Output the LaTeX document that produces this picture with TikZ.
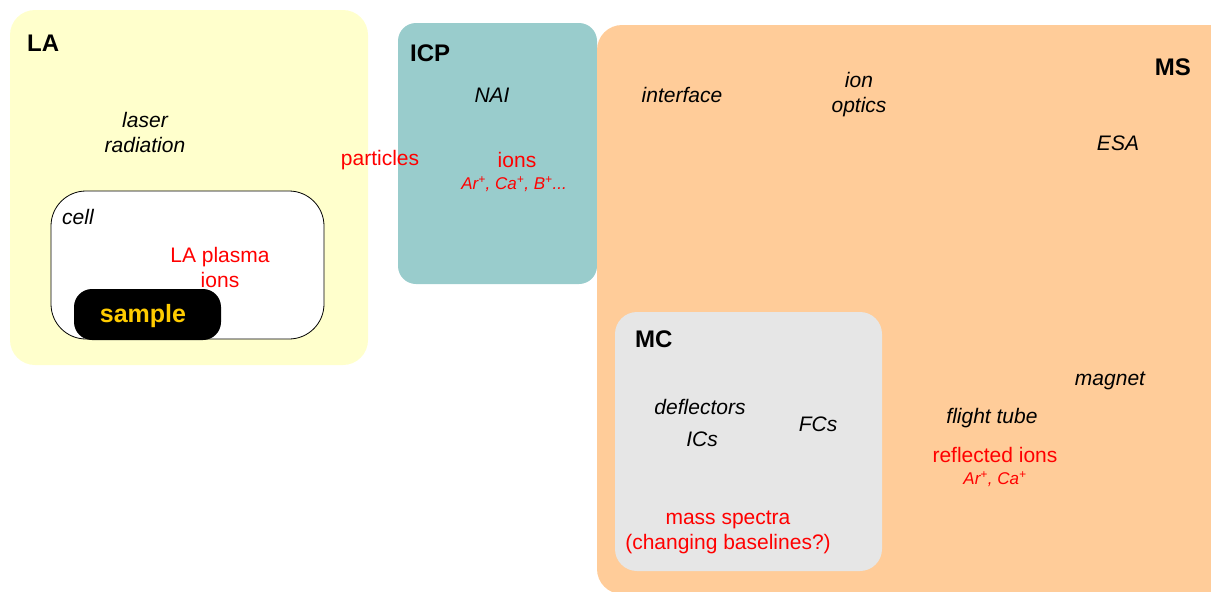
\documentclass[tikz,border=0pt]{standalone}
\usepackage{fontspec}
\setmainfont{Liberation Sans}
\definecolor{layellow}{RGB}{255,255,204}
\definecolor{icpteal}{RGB}{153,204,204}
\definecolor{msorange}{RGB}{255,204,153}
\definecolor{mcgrey}{RGB}{230,230,230}
\definecolor{samplegold}{RGB}{255,204,0}
\definecolor{txtred}{RGB}{255,0,0}
\tikzset{
  region/.style={rounded corners=#1},
  lbl/.style={font=\fontsize{21}{25}\selectfont\itshape, text=black, inner sep=0pt, align=center},
  redlbl/.style={font=\fontsize{21}{25}\selectfont, text=txtred, inner sep=0pt, align=center},
  smallred/.style={font=\fontsize{17}{20}\selectfont\itshape, text=txtred, inner sep=0pt},
  title/.style={font=\fontsize{24}{28}\selectfont\bfseries, text=black, inner sep=0pt},
}
\begin{document}
\begin{tikzpicture}[x=1pt,y=-1pt]
\useasboundingbox (0,0) rectangle (1211,592);
% boxes
\fill[layellow, region=25] (10,10) rectangle (368,365);
\fill[icpteal, region=18] (398,23) rectangle (597,284);
\fill[msorange, region=25] (597,25) rectangle (1240,594);
\fill[mcgrey, region=22] (615,312) rectangle (882,571);
\filldraw[fill=white, draw=black, line width=0.8pt, region=35] (51,191) rectangle (324,339);
\fill[black, region=18] (74,289) rectangle (221,340);
% LA
\node[title, anchor=west] (la) at (27,43) {LA};
\node[lbl] (laser) at (145,132) {laser\\radiation};
\node[lbl, anchor=west] (cell) at (62,217) {cell};
\node[redlbl] (plasma) at (220,267) {LA plasma\\ions};
\node[font=\fontsize{25}{30}\selectfont\bfseries, text=samplegold, inner sep=0pt] (sample) at (143,316) {sample};
\node[redlbl] (particles) at (380,160) {particles};
% ICP
\node[title, anchor=west] (icp) at (410,53) {ICP};
\node[lbl] (nai) at (492,95) {NAI};
\node[redlbl] (ions) at (517,160) {ions};
\node[smallred] (icpions) at (514,184) {Ar\textsuperscript{+}, Ca\textsuperscript{+}, B\textsuperscript{+}...};
% MS
\node[title, anchor=east] (ms) at (1191,67) {MS};
\node[lbl] (interface) at (682,95) {interface};
\node[lbl] (optics) at (859,95) {ion\\optics};
\node[lbl] (esa) at (1118,143) {ESA};
\node[lbl] (magnet) at (1110,381) {magnet};
\node[lbl] (flight) at (992,418) {flight tube};
\node[redlbl] (reflected) at (995,455) {reflected ions};
\node[smallred] (refions) at (995,479) {Ar\textsuperscript{+}, Ca\textsuperscript{+}};
% MC
\node[title, anchor=west] (mc) at (635,339) {MC};
\node[lbl] (deflectors) at (700,407) {deflectors};
\node[lbl] (ics) at (702,439) {ICs};
\node[lbl] (fcs) at (818,424) {FCs};
\node[redlbl] (spectra) at (728,532) {mass spectra\\(changing baselines?)};
\end{tikzpicture}
\end{document}
